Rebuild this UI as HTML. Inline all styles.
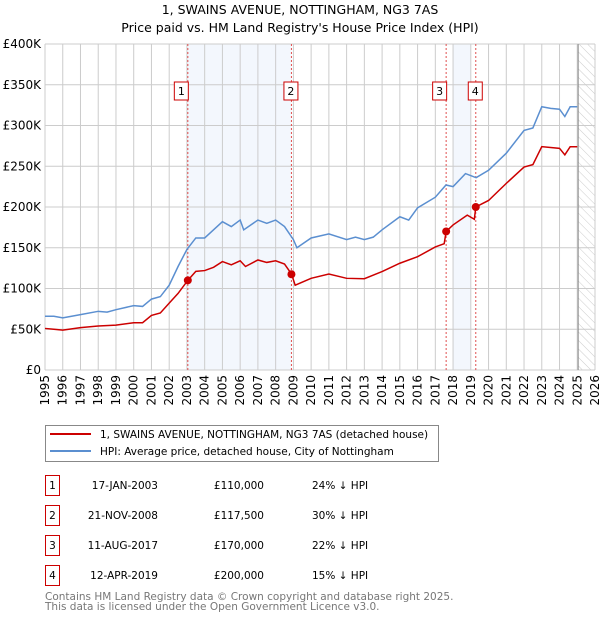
<!DOCTYPE html>
<html><head><meta charset="utf-8"><style>
body{margin:0;background:#fff;font-family:"Liberation Sans","DejaVu Sans",sans-serif;}
svg text{font-family:"DejaVu Sans","Liberation Sans",sans-serif;}
</style></head><body>
<svg id="c" width="600" height="620" xmlns="http://www.w3.org/2000/svg">
<defs><pattern id="hatch" width="6" height="6" patternUnits="userSpaceOnUse" patternTransform="rotate(-45)"><line x1="0" y1="0" x2="0" y2="6" stroke="#ccc" stroke-width="1"/></pattern></defs>
<text x="300" y="14" text-anchor="middle" font-size="12.5">1, SWAINS AVENUE, NOTTINGHAM, NG3 7AS</text>
<text x="300" y="32" text-anchor="middle" font-size="12.5">Price paid vs. HM Land Registry's House Price Index (HPI)</text>
<g id="plot"></g>
<g>
<rect x="45.5" y="425.5" width="393" height="36" fill="#fff" stroke="#888"/>
<line x1="50" y1="434" x2="91" y2="434" stroke="#cc0000" stroke-width="2"/>
<text x="100" y="438" font-size="10.5">1, SWAINS AVENUE, NOTTINGHAM, NG3 7AS (detached house)</text>
<line x1="50" y1="451" x2="91" y2="451" stroke="#5b8fd0" stroke-width="2"/>
<text x="100" y="455" font-size="10.5">HPI: Average price, detached house, City of Nottingham</text>
</g>
<g id="table" font-size="10.5"></g>
<text x="45" y="600" font-size="10.5" fill="#777">Contains HM Land Registry data © Crown copyright and database right 2025.</text>
<text x="45" y="610" font-size="10.5" fill="#777">This data is licensed under the Open Government Licence v3.0.</text>
</svg>
<script>
const hpiYears=[1995,1995.5,1996,1996.5,1997,1998,1998.5,1999,2000,2000.5,2001,2001.5,2002,2002.5,2003,2003.5,2004,2004.5,2005,2005.5,2006,2006.2,2007,2007.5,2008,2008.5,2009,2009.2,2010,2011,2012,2012.5,2013,2013.5,2014,2015,2015.5,2016,2017,2017.6,2018,2018.7,2019.3,2020,2021,2022,2022.5,2023,2023.5,2024,2024.3,2024.6,2025];
const hpiValues=[66,66,64,66,68,72,71,74,79,78,87,90,104,127,148,162,162,172,182,176,184,172,184,180,184,176,160,150,162,167,160,163,160,163,172,188,184,199,212,227,225,241,236,245,266,294,297,323,321,320,311,323,323];
const ppYears=[1995,1995.5,1996,1997,1998,1999,2000,2000.5,2001,2001.5,2002,2002.5,2003.05,2003.5,2004,2004.5,2005,2005.5,2006,2006.3,2007,2007.5,2008,2008.5,2008.9,2009.1,2010,2011,2012,2013,2014,2015,2016,2017,2017.5,2017.61,2018,2018.8,2019.2,2019.28,2020,2021,2022,2022.5,2023,2024,2024.3,2024.6,2025];
const ppValues=[51,50,49,52,54,55,58,58,67,70,82,94,110,121,122,126,133,129,134,127,135,132,134,130,117.5,104,112.5,117.7,112.5,112,120.8,131,139,151,155,170,178,190,185,200,208,229,249,252,274,272,264,274,274];
const saleLabels=["1","2","3","4"];
const saleYears=[2003.05,2008.89,2017.61,2019.28];
const salePrices=[110,117.5,170,200];
const saleDates=["17-JAN-2003","21-NOV-2008","11-AUG-2017","12-APR-2019"];
const salePriceText=["£110,000","£117,500","£170,000","£200,000"];
const saleDiff=["24% ↓ HPI","30% ↓ HPI","22% ↓ HPI","15% ↓ HPI"];
const yTicks=[0,50,100,150,200,250,300,350,400];
const yTickLabels=["£0","£50K","£100K","£150K","£200K","£250K","£300K","£350K","£400K"];
const xTicks=[1995,1996,1997,1998,1999,2000,2001,2002,2003,2004,2005,2006,2007,2008,2009,2010,2011,2012,2013,2014,2015,2016,2017,2018,2019,2020,2021,2022,2023,2024,2025,2026];

const L=45,R=595,T=44,B=370;
const X=y=>L+(y-1995)*(R-L)/31;
const Y=v=>B-v*(B-T)/400;
const NS="http://www.w3.org/2000/svg";
const P=document.getElementById('plot');
function mk(tag,at,parent){const e=document.createElementNS(NS,tag);for(const k in at)e.setAttribute(k,at[k]);(parent||P).appendChild(e);return e;}

let e;
e=mk('rect',{x:X(2003.05),y:T,width:X(2008.89)-X(2003.05),height:B-T,fill:'#eef3fc',opacity:0.7});


e=mk('rect',{x:X(2018),y:T,width:X(2019)-X(2018),height:B-T,fill:'#eef3fc',opacity:0.7});


e=mk('rect',{x:X(2025.05),y:T,width:R-X(2025.05),height:B-T,fill:'url(#hatch)'});



yTicks.forEach((v,i)=>{
 e=mk('line',{x1:L,x2:R,y1:Y(v),y2:Y(v),stroke:'#ccc'});
 
 
 e=mk('text',{x:L-4,y:Y(v)+4,'text-anchor':'end','font-size':12});
 e.textContent=yTickLabels[i];
 
 
});
xTicks.forEach(t=>{
 e=mk('line',{x1:X(t),x2:X(t),y1:T,y2:B,stroke:'#ccc'});
 
 
 e=mk('text',{x:0,y:0,'text-anchor':'end','font-size':12,transform:`translate(${X(t)+4},${B+5}) rotate(-90)`});
 e.textContent=t;
 
 
});
e=mk('line',{x1:X(2025.05),x2:X(2025.05),y1:T,y2:B,stroke:'#888'});



saleYears.forEach((sy,i)=>{
 e=mk('line',{x1:X(sy),x2:X(sy),y1:T,y2:B,stroke:'#e05050','stroke-dasharray':'2,2'});
 
 
 const off=(i==0||i==2?10:0)+(i==1||i==3?4:0);
 e=mk('rect',{x:X(sy)-off-3.5,y:82,width:14,height:18,fill:'#fff',stroke:'#cc0000'});
 
 
 e=mk('text',{x:X(sy)-off+3.5,y:95,'text-anchor':'middle','font-size':11});
 e.textContent=saleLabels[i];
 
 
});

e=mk('polyline',{points:hpiYears.map((y,i)=>X(y)+','+Y(hpiValues[i])).join(' '),fill:'none',stroke:'#5b8fd0','stroke-width':1.5});


e=mk('polyline',{points:ppYears.map((y,i)=>X(y)+','+Y(ppValues[i])).join(' '),fill:'none',stroke:'#cc0000','stroke-width':1.5});


saleYears.forEach((sy,i)=>{
 e=mk('circle',{cx:X(sy),cy:Y(salePrices[i]),r:4,fill:'#cc0000'});
 
 
});

const TB=document.getElementById('table');
saleLabels.forEach((s,i)=>{
 const yy=476+i*30;
 e=mk('rect',{x:45.5,y:yy-0.5,width:14,height:20,fill:'#fff',stroke:'#cc0000'},TB);
 
 
 e=mk('text',{x:52.5,y:yy+13,'text-anchor':'middle'},TB);e.textContent=s;
 
 
 e=mk('text',{x:158,y:yy+13,'text-anchor':'end'},TB);e.textContent=saleDates[i];
 
 
 e=mk('text',{x:264,y:yy+13,'text-anchor':'end'},TB);e.textContent=salePriceText[i];
 
 
 e=mk('text',{x:312,y:yy+13},TB);e.textContent=saleDiff[i];
 
 
});
</script>
</body></html>
